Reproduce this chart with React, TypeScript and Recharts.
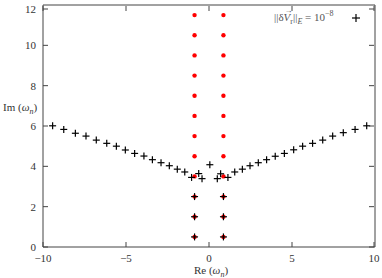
import { ScatterChart, Scatter, XAxis, YAxis, Label } from "recharts";

const RED_RE = [-0.87, 0.87];
const RED_IM = [0.5, 1.5, 2.5, 3.5, 4.5, 5.5, 6.5, 7.5, 8.5, 9.5, 10.5, 11.5];

const LOW_RE = [-0.87, 0.87];
const LOW_IM = [0.5, 1.5, 2.5];

const BRANCH_RE = [
  -9.42, -8.75, -8.05, -7.41, -6.79, -6.16, -5.58, -5.04, -4.48, -3.92, -3.41, -2.89, -2.39, -1.91, -1.46, -1.05,
  -0.62, -0.42, 0.05, 0.5, 0.7,
  1.14, 1.55, 2.01, 2.47, 2.97, 3.47, 3.99, 4.54, 5.1, 5.64, 6.24, 6.85, 7.45, 8.09, 8.8, 9.5,
];
const BRANCH_IM = [
  6.01, 5.83, 5.64, 5.5, 5.3, 5.14, 5.0, 4.81, 4.64, 4.51, 4.33, 4.18, 4.03, 3.86, 3.72, 3.45,
  3.64, 3.39, 4.08, 3.39, 3.63,
  3.45, 3.72, 3.86, 4.03, 4.18, 4.33, 4.5, 4.64, 4.82, 5.0, 5.14, 5.3, 5.5, 5.67, 5.83, 6.01,
];

const X_TICKS = [-10, -5, 0, 5, 10];
const Y_TICKS = [0, 2, 4, 6, 8, 10, 12];

const redPoints = RED_RE.flatMap((re) => RED_IM.map((im) => ({ x: re, y: im })));
const crossPoints = [
  ...LOW_IM.flatMap((im) => LOW_RE.map((re) => ({ x: re, y: im }))),
  ...BRANCH_RE.map((re, i) => ({ x: re, y: BRANCH_IM[i] })),
];

const FONT = "Liberation Serif, serif";
const AXIS = "#444";
const TXT = "#333";

const fmt = (v: number) => String(v).replace("-", "\u2212");

const Cross = (p: any) => (
  <g>
    <line x1={p.cx - 3.5} x2={p.cx + 3.5} y1={p.cy} y2={p.cy} stroke="#000" strokeWidth={1.2} />
    <line x1={p.cx} x2={p.cx} y1={p.cy - 3.5} y2={p.cy + 3.5} stroke="#000" strokeWidth={1.2} />
  </g>
);

const Dot = (p: any) => <circle cx={p.cx} cy={p.cy} r={2.2} fill="#ff0000" />;

const LeftTick = (p: any) => (
  <g>
    <line x1={p.x + 7} x2={p.x + 12} y1={p.y} y2={p.y} stroke={AXIS} />
    <text x={p.x} y={p.y} dy="0.35em" textAnchor="end" fontFamily={FONT} fontSize={11} fill={TXT}>
      {fmt(p.payload.value)}
    </text>
  </g>
);

const BottomTick = (p: any) => (
  <g>
    <line x1={p.x} x2={p.x} y1={p.y - 7} y2={p.y - 12} stroke={AXIS} />
    <text x={p.x} y={p.y} dy="0.71em" textAnchor="middle" fontFamily={FONT} fontSize={11} fill={TXT}>
      {fmt(p.payload.value)}
    </text>
  </g>
);

const TopTick = (p: any) => <line x1={p.x} x2={p.x} y1={p.y + 1} y2={p.y + 6} stroke={AXIS} />;
const RightTick = (p: any) => <line x1={p.x - 1} x2={p.x - 6} y1={p.y} y2={p.y} stroke={AXIS} />;

const YLabel = (p: any) => (
  <text x={p.viewBox.x + 3} y={p.viewBox.y + 106} fontFamily={FONT} fontSize={11} fill={TXT}>
    Im (<tspan fontStyle="italic">ω</tspan>
    <tspan fontStyle="italic" fontSize={8} dy={3}>n</tspan>
    <tspan dy={-3}>)</tspan>
  </text>
);

const XLabel = (p: any) => (
  <text
    x={p.viewBox.x + p.viewBox.width / 2 + 2}
    y={p.viewBox.y + 27}
    textAnchor="middle"
    fontFamily={FONT}
    fontSize={11}
    fill={TXT}
  >
    Re (<tspan fontStyle="italic">ω</tspan>
    <tspan fontStyle="italic" fontSize={8} dy={3}>n</tspan>
    <tspan dy={-3}>)</tspan>
  </text>
);

function LegendBox() {
  return (
    <div
      style={{
        position: "absolute",
        left: 274,
        top: 7,
        fontFamily: FONT,
        fontSize: 11,
        color: "#555",
        whiteSpace: "nowrap",
        lineHeight: "14px",
      }}
    >
      ||δ
      <span style={{ position: "relative" }}>
        <i>V</i>
        <span style={{ position: "absolute", left: 1, top: -7, fontSize: 8 }}>→</span>
      </span>
      <sub style={{ fontSize: 8 }}>r</sub>||<sub style={{ fontSize: 8 }}><i>E</i></sub> = 10
      <sup style={{ fontSize: 8 }}>−8</sup>
      <svg width={8} height={8} style={{ marginLeft: 18, verticalAlign: "middle" }}>
        <line x1={0} x2={8} y1={4} y2={4} stroke="#000" strokeWidth={1.2} />
        <line x1={4} x2={4} y1={0} y2={8} stroke="#000" strokeWidth={1.2} />
      </svg>
    </div>
  );
}

export default function App() {
  return (
    <div style={{ position: "absolute", left: 0, top: 0, width: 382, height: 278, background: "#fff" }}>
      <ScatterChart width={382} height={278} margin={{ top: 4, right: 6, bottom: 0, left: 0 }}>
        <XAxis
          xAxisId="b"
          type="number"
          dataKey="x"
          domain={[-10, 10]}
          ticks={X_TICKS}
          height={31}
          tickSize={0}
          tickMargin={7}
          tickLine={false}
          stroke={AXIS}
          tick={BottomTick}
          allowDataOverflow
        >
          <Label content={XLabel} />
        </XAxis>
        <XAxis
          xAxisId="t"
          orientation="top"
          type="number"
          dataKey="x"
          domain={[-10, 10]}
          ticks={X_TICKS}
          height={1}
          tickSize={0}
          tickMargin={0}
          tickLine={false}
          stroke={AXIS}
          tick={TopTick}
          allowDataOverflow
        />
        <YAxis
          yAxisId="l"
          type="number"
          dataKey="y"
          domain={[0, 12]}
          ticks={Y_TICKS}
          width={43}
          tickSize={0}
          tickMargin={7}
          tickLine={false}
          stroke={AXIS}
          tick={LeftTick}
          allowDataOverflow
        >
          <Label content={YLabel} />
        </YAxis>
        <YAxis
          yAxisId="r"
          orientation="right"
          type="number"
          dataKey="y"
          domain={[0, 12]}
          ticks={Y_TICKS}
          width={1}
          tickSize={0}
          tickMargin={0}
          tickLine={false}
          stroke={AXIS}
          tick={RightTick}
          allowDataOverflow
        />
        <Scatter xAxisId="t" yAxisId="r" data={redPoints} shape={() => <g />} isAnimationActive={false} />
        <Scatter xAxisId="b" yAxisId="l" data={redPoints} shape={Dot} isAnimationActive={false} />
        <Scatter xAxisId="b" yAxisId="l" data={crossPoints} shape={Cross} isAnimationActive={false} />
      </ScatterChart>
      <LegendBox />
    </div>
  );
}
